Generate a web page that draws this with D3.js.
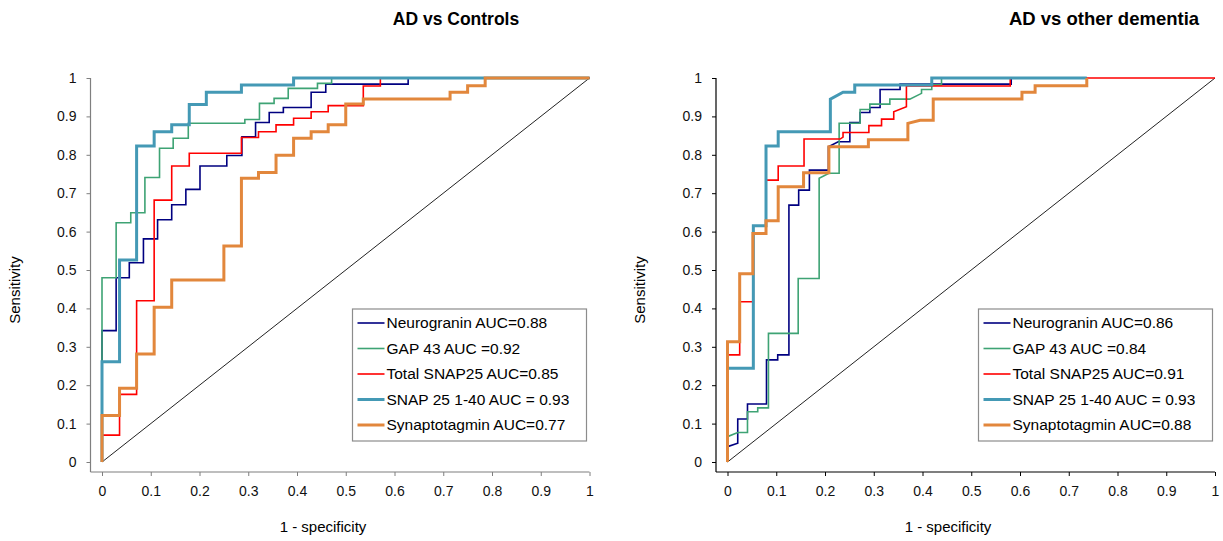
<!DOCTYPE html>
<html>
<head>
<meta charset="utf-8">
<script src="https://cdn.jsdelivr.net/npm/d3@7"></script>
<style>
  body { margin: 0; background: #fff; }
  svg { font-family: "Liberation Sans", Arial, sans-serif; }
</style>
</head>
<body>
<svg id="chart" width="1223" height="541"></svg>
<script>
// tick values shared by both axes
const ticks = [0, 0.1, 0.2, 0.3, 0.4, 0.5, 0.6, 0.7, 0.8, 0.9, 1];

const seriesNames = ['Neurogranin', 'GAP 43', 'Total SNAP25', 'SNAP 25 1-40', 'Synaptotagmin'];
const colors = ['#000080', '#3ea374', '#ff0000', '#4499b5', '#e2873c'];
const widths = [1.6, 1.6, 1.6, 3, 3];

// AD vs Controls  -- [1-specificity, sensitivity] vertices
const ctrlNeurogranin = [[0,0],[0,0.342],[0.029,0.342],[0.029,0.48],[0.056,0.48],[0.056,0.519],[0.085,0.519],[0.085,0.581],[0.114,0.581],[0.114,0.631],[0.143,0.631],[0.143,0.67],[0.172,0.67],[0.172,0.71],[0.201,0.71],[0.201,0.771],[0.256,0.771],[0.256,0.798],[0.287,0.798],[0.287,0.847],[0.315,0.847],[0.315,0.884],[0.343,0.884],[0.343,0.91],[0.372,0.91],[0.372,0.923],[0.429,0.923],[0.429,0.963],[0.459,0.963],[0.459,0.984],[0.628,0.984],[0.628,1],[1,1]];
const ctrlGap43 = [[0,0],[0,0.48],[0.029,0.48],[0.029,0.623],[0.059,0.623],[0.059,0.649],[0.088,0.649],[0.088,0.741],[0.118,0.741],[0.118,0.817],[0.146,0.817],[0.146,0.843],[0.177,0.843],[0.177,0.882],[0.293,0.882],[0.293,0.892],[0.323,0.892],[0.323,0.934],[0.353,0.934],[0.353,0.947],[0.382,0.947],[0.382,0.973],[0.442,0.973],[0.442,0.986],[0.471,0.986],[0.471,1],[1,1]];
const ctrlTotalSnap25 = [[0,0],[0,0.07],[0.036,0.07],[0.036,0.176],[0.071,0.176],[0.071,0.42],[0.107,0.42],[0.107,0.682],[0.143,0.682],[0.143,0.771],[0.179,0.771],[0.179,0.804],[0.286,0.804],[0.286,0.845],[0.321,0.845],[0.321,0.86],[0.357,0.86],[0.357,0.878],[0.393,0.878],[0.393,0.895],[0.429,0.895],[0.429,0.912],[0.464,0.912],[0.464,0.928],[0.536,0.928],[0.536,0.979],[0.571,0.979],[0.571,1],[1,1]];
const ctrlSnap25_140 = [[0,0],[0,0.261],[0.036,0.261],[0.036,0.526],[0.071,0.526],[0.071,0.823],[0.107,0.823],[0.107,0.86],[0.143,0.86],[0.143,0.878],[0.179,0.878],[0.179,0.931],[0.214,0.931],[0.214,0.963],[0.286,0.963],[0.286,0.982],[0.393,0.982],[0.393,1],[1,1]];
const ctrlSynaptotagmin = [[0,0],[0,0.121],[0.036,0.121],[0.036,0.192],[0.071,0.192],[0.071,0.281],[0.107,0.281],[0.107,0.403],[0.143,0.403],[0.143,0.474],[0.25,0.474],[0.25,0.5625],[0.286,0.5625],[0.286,0.739],[0.321,0.739],[0.321,0.754],[0.357,0.754],[0.357,0.799],[0.393,0.799],[0.393,0.843],[0.429,0.843],[0.429,0.86],[0.464,0.86],[0.464,0.878],[0.5,0.878],[0.5,0.932],[0.536,0.932],[0.536,0.945],[0.714,0.945],[0.714,0.963],[0.75,0.963],[0.75,0.98],[0.786,0.98],[0.786,1],[1,1]];
const ctrlAuc = ['0.88', ' =0.92', '0.85', ' = 0.93', '0.77'];

// AD vs other dementia
const demNeurogranin = [[0,0],[0,0.04],[0.021,0.049],[0.021,0.112],[0.041,0.112],[0.041,0.151],[0.08,0.151],[0.08,0.266],[0.103,0.266],[0.103,0.279],[0.126,0.279],[0.126,0.669],[0.146,0.669],[0.146,0.708],[0.168,0.708],[0.168,0.76],[0.207,0.76],[0.207,0.821],[0.227,0.834],[0.251,0.834],[0.251,0.884],[0.272,0.884],[0.272,0.91],[0.292,0.91],[0.292,0.923],[0.313,0.923],[0.313,0.97],[0.354,0.97],[0.354,0.984],[0.582,0.984],[0.582,1],[0.737,1]];
const demGap43 = [[0,0],[0,0.066],[0.021,0.077],[0.041,0.077],[0.041,0.131],[0.062,0.131],[0.062,0.141],[0.084,0.141],[0.084,0.335],[0.145,0.335],[0.145,0.478],[0.188,0.478],[0.188,0.739],[0.208,0.752],[0.229,0.752],[0.229,0.882],[0.272,0.882],[0.272,0.918],[0.292,0.918],[0.292,0.932],[0.333,0.932],[0.333,0.945],[0.374,0.945],[0.398,0.96],[0.398,0.97],[0.419,0.97],[0.419,0.982],[0.439,0.982],[0.439,1],[0.737,1]];
const demTotalSnap25 = [[0,0],[0,0.279],[0.025,0.279],[0.025,0.4175],[0.053,0.4175],[0.053,0.615],[0.079,0.615],[0.079,0.734],[0.104,0.734],[0.104,0.771],[0.157,0.771],[0.157,0.841],[0.231,0.841],[0.237,0.846],[0.237,0.858],[0.29,0.858],[0.29,0.876],[0.316,0.876],[0.316,0.893],[0.341,0.893],[0.341,0.912],[0.367,0.925],[0.367,0.979],[0.58,0.979],[0.58,1],[1,1]];
const demSnap25_140 = [[0,0],[0,0.244],[0.053,0.244],[0.053,0.615],[0.079,0.615],[0.079,0.823],[0.104,0.823],[0.104,0.86],[0.211,0.86],[0.211,0.945],[0.237,0.963],[0.261,0.963],[0.261,0.982],[0.419,0.982],[0.419,1],[0.737,1]];
const demSynaptotagmin = [[0,0],[0,0.313],[0.025,0.313],[0.025,0.49],[0.052,0.49],[0.052,0.595],[0.079,0.595],[0.079,0.628],[0.104,0.628],[0.104,0.717],[0.156,0.717],[0.156,0.753],[0.208,0.753],[0.208,0.821],[0.289,0.821],[0.289,0.839],[0.37,0.839],[0.37,0.882],[0.395,0.89],[0.422,0.89],[0.422,0.945],[0.604,0.945],[0.604,0.963],[0.631,0.963],[0.631,0.98],[0.737,0.98],[0.737,1]];
const demAuc = ['0.86', ' =0.84', '0.91', ' = 0.93', '0.88'];

const svg = d3.select('#chart');

function drawPanel(cfg) {
   const g = svg.append('g');
   const x = d3.scaleLinear().domain([0, 1]).range([cfg.left, cfg.left + 487.5]);
   const y = d3.scaleLinear().domain([0, 1]).range([462, 78]);

   //axis lines are offset from the zero point like in excel
   g.append('line')
      .attr('x1', cfg.axisX).attr('x2', x(1))
      .attr('y1', 472).attr('y2', 472)
      .attr('stroke', cfg.axisColor).attr('stroke-width', 1.2);
   g.append('line')
      .attr('x1', cfg.axisX).attr('x2', cfg.axisX)
      .attr('y1', y(1)).attr('y2', 472)
      .attr('stroke', cfg.axisColor).attr('stroke-width', 1.2);

   const xAxis = g.append('g')
      .attr('transform', 'translate(0,472)')
      .call(d3.axisBottom(x).tickValues(ticks).tickFormat(d3.format('')).tickSizeInner(4).tickSizeOuter(0).tickPadding(10));
   const yAxis = g.append('g')
      .attr('transform', `translate(${cfg.axisX},0)`)
      .call(d3.axisLeft(y).tickValues(ticks).tickFormat(d3.format('')).tickSizeInner(4).tickSizeOuter(0).tickPadding(10));
   [xAxis, yAxis].forEach((a) => {
      a.select('.domain').remove();
      a.selectAll('line').attr('stroke', cfg.axisColor);
      a.selectAll('text').attr('fill', '#111').style('font-size', '14px').style('font-family', '"Liberation Sans", Arial, sans-serif');
   });

   // reference diagonal
   g.append('line')
      .attr('x1', x(0)).attr('y1', y(0)).attr('x2', x(1)).attr('y2', y(1))
      .attr('stroke', '#222').attr('stroke-width', 1);

   const line = d3.line().x((d) => x(d[0])).y((d) => y(d[1]));
   cfg.series.forEach((s, i) => {
      g.append('path')
         .datum(s)
         .attr('d', line)
         .attr('fill', 'none')
         .attr('stroke', colors[i])
         .attr('stroke-width', widths[i])
         .attr('stroke-linejoin', 'miter');
   });

   g.append('text')
      .attr('x', cfg.titleX).attr('y', 25)
      .attr('text-anchor', 'middle')
      .style('font-weight', 'bold').style('font-size', cfg.titleSize)
      .text(cfg.title);

   g.append('text')
      .attr('x', cfg.xTitleX).attr('y', 532)
      .attr('text-anchor', 'middle').style('font-size', '15px')
      .text('1 - specificity');
   g.append('text')
      .attr('transform', `translate(${cfg.yTitleX},290) rotate(-90)`)
      .attr('text-anchor', 'middle').style('font-size', '15px')
      .text('Sensitivity');

   // legend
   const lg = g.append('g').attr('transform', `translate(${cfg.legendX},309)`);
   lg.append('rect')
      .attr('x', 0).attr('y', 0).attr('width', 234).attr('height', 132)
      .attr('fill', '#fff').attr('stroke', '#8c8c8c').attr('stroke-width', 1.2);
   seriesNames.forEach((name, i) => {
      const ly = 14 + i * 25.5;
      lg.append('line')
         .attr('x1', 5).attr('x2', 32).attr('y1', ly).attr('y2', ly)
         .attr('stroke', colors[i]).attr('stroke-width', widths[i]);
      lg.append('text')
         .attr('x', 34).attr('y', ly).attr('dy', '0.35em')
         .style('font-size', '15.5px')
         .text(name + ' AUC' + (cfg.auc[i].startsWith(' ') ? cfg.auc[i] : '=' + cfg.auc[i]));
   });
}

drawPanel({
   left: 102, axisX: 90.5, axisColor: '#7f7f7f',
   title: 'AD vs Controls', titleX: 456, titleSize: '17.5px', xTitleX: 323, yTitleX: 20, legendX: 352.5,
   series: [ctrlNeurogranin, ctrlGap43, ctrlTotalSnap25, ctrlSnap25_140, ctrlSynaptotagmin],
   auc: ctrlAuc,
});
drawPanel({
   left: 727.5, axisX: 716, axisColor: '#000',
   title: 'AD vs other dementia', titleX: 1104, titleSize: '18.5px', xTitleX: 948, yTitleX: 645, legendX: 978.5,
   series: [demNeurogranin, demGap43, demTotalSnap25, demSnap25_140, demSynaptotagmin],
   auc: demAuc,
});
</script>
</body>
</html>
